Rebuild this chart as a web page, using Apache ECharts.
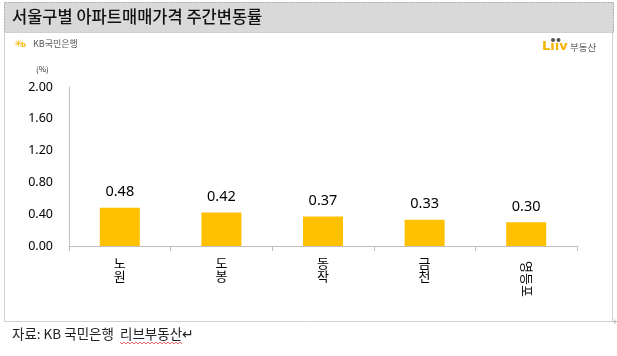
<!DOCTYPE html>
<html><head><meta charset="utf-8">
<script src="https://cdn.jsdelivr.net/npm/echarts@6/dist/echarts.min.js"></script>
<style>html,body{margin:0;padding:0;background:#fff}#c{width:617px;height:356px}</style>
</head><body><div id="c"></div>
<script>
var categories = ['노원', '도봉', '동작', '금천', '영등포'];
var values = [0.48, 0.42, 0.37, 0.33, 0.30];
var yTicks = [0, 0.4, 0.8, 1.2, 1.6, 2.0];
var titleText = '서울구별 아파트매매가격 주간변동률';
var sourcePrefix = '자료: KB 국민은행  ';
var sourceUnderlined = '리브부동산';
var sourceEnd = '↵';

var KR = '"Noto Sans CJK KR", "Noto Sans", sans-serif';
var srcFont = '13.5px ' + KR;
var chart = echarts.init(document.getElementById('c'), null, {renderer: 'canvas'});

// measure source text to place the red spell-check underline
var mctx = document.createElement('canvas').getContext('2d');
mctx.font = srcFont;
var ux0 = 12 + mctx.measureText(sourcePrefix).width;
var ux1 = ux0 + mctx.measureText(sourceUnderlined).width;
var wave = [];
for (var wx = ux0, k = 0; wx <= ux1; wx += 2, k++) wave.push([wx, k % 2 ? 344 : 342]);

var staticGraphics = [
    {type: 'rect', z: -10, shape: {x: 4.5, y: 2.5, width: 609, height: 30},
      style: {fill: '#d9d9d9', stroke: '#a6a6a6', lineWidth: 1, lineDash: [2, 1]}},
    {type: 'rect', z: -10, shape: {x: 4.5, y: 32.5, width: 608, height: 289},
      style: {fill: 'rgba(0,0,0,0)', stroke: '#d0d0d0', lineWidth: 1}},
    {type: 'text', x: 12, y: 17, style: {text: titleText, font: '500 16.5px ' + KR, fill: '#111', textVerticalAlign: 'middle'}},
    {type: 'text', x: 14, y: 44, style: {text: '✳', font: 'bold 10px "DejaVu Sans"', fill: '#f5b400', textVerticalAlign: 'middle'}},
    {type: 'text', x: 21, y: 45, style: {text: 'b', font: 'bold 7px "DejaVu Sans"', fill: '#f5b400', textVerticalAlign: 'middle'}},
    {type: 'text', x: 33, y: 44, style: {text: 'KB국민은행', font: '9px ' + KR, fill: '#555', textVerticalAlign: 'middle'}},
    {type: 'text', x: 542, y: 47, style: {text: 'Lııv', font: 'bold 13px "DejaVu Sans"', fill: '#f7b200', textVerticalAlign: 'middle'}},
    {type: 'circle', shape: {cx: 553, cy: 40, r: 2}, style: {fill: '#555'}},
    {type: 'circle', shape: {cx: 558.5, cy: 40, r: 2}, style: {fill: '#555'}},
    {type: 'text', x: 570, y: 47, style: {text: '부동산', font: '9.5px ' + KR, fill: '#555', textVerticalAlign: 'middle'}},
    {type: 'text', x: 36, y: 69, style: {text: '(%)', font: '8px ' + KR, fill: '#333', textVerticalAlign: 'middle'}},
    {type: 'text', x: 12, y: 334, style: {text: sourcePrefix + sourceUnderlined + sourceEnd, font: srcFont, fill: '#222', textVerticalAlign: 'middle'}},
    {type: 'polyline', shape: {points: wave}, style: {stroke: '#d04040', lineWidth: 0.8, fill: null}},
    {type: 'text', x: 612, y: 322, style: {text: '+', font: '7px "DejaVu Sans"', fill: '#888', textVerticalAlign: 'middle'}}
];
chart.setOption({
  animation: false,
  backgroundColor: '#fff',
  grid: {left: 69, right: 40, top: 87, bottom: 110, containLabel: false},
  xAxis: {
    type: 'category', data: categories,
    axisLine: {lineStyle: {color: '#bfbfbf', width: 1}},
    axisTick: {show: true, length: 5, lineStyle: {color: '#bfbfbf'}},
    axisLabel: {margin: 10, color: '#000', fontSize: 13, lineHeight: 13.5, fontFamily: KR, verticalAlign: 'top',
      formatter: function (v) { return v.length <= 2 ? v.split('').join('\n') : ''; }}
  },
  yAxis: {
    type: 'value', min: yTicks[0], max: yTicks[yTicks.length - 1], interval: 0.4,
    axisLine: {show: true, lineStyle: {color: '#bfbfbf', width: 1}},
    axisTick: {show: false},
    splitLine: {show: false},
    axisLabel: {margin: 16, color: '#000', fontSize: 12.5, fontFamily: '"Noto Sans", sans-serif',
      formatter: function (v) { return v.toFixed(2); }}
  },
  series: [{
    type: 'bar', data: values, barWidth: 40,
    itemStyle: {color: '#FFC000'},
    label: {show: true, position: 'top', distance: 8, color: '#000', fontSize: 14.5,
      fontFamily: '"Noto Sans", sans-serif', formatter: function (p) { return p.value.toFixed(2); }}
  }],
  graphic: staticGraphics
});
// long category names are drawn rotated (reading downward), placed via the axis scale
var extra = [];
var y0 = chart.convertToPixel({yAxisIndex: 0}, 0);
categories.forEach(function (c) {
  if (c.length > 2) {
    var px = chart.convertToPixel({xAxisIndex: 0}, c);
    extra.push({type: 'text', x: px + 0.5, y: y0 + 15, rotation: -Math.PI / 2,
      style: {text: c, font: '13px ' + KR, fill: '#000', textAlign: 'left', textVerticalAlign: 'middle'}});
  }
});
chart.setOption({graphic: staticGraphics.concat(extra)});
</script></body></html>
